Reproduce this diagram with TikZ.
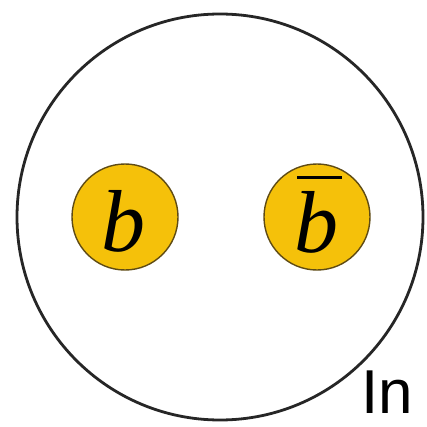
\documentclass[tikz,border=0pt]{standalone}
\usetikzlibrary{calc}
\usepackage{fontspec}
\setmainfont{Liberation Serif}
\newfontfamily\labelsans{Liberation Sans}
\definecolor{quarkfill}{RGB}{245,193,10}
\definecolor{quarkedge}{RGB}{95,75,20}
\begin{document}
\begin{tikzpicture}[x=1pt,y=-1pt,
  quark/.style={circle,draw=quarkedge,line width=1.4pt,fill=quarkfill,minimum size=106pt,inner sep=0pt},
  flavour/.style={inner sep=0pt,font=\fontsize{88}{88}\selectfont\itshape},
  hadron/.style={circle,draw=black!85,line width=2.8pt,minimum size=406pt,inner sep=0pt}]
\clip (0,0) rectangle (427,427);
\useasboundingbox (0,0) rectangle (427,427);
\fill[white] (0,0) rectangle (427,427);
\node[hadron] (meson) at (220,217) {};
\node[quark] (b) at (125,217) {};
\node[flavour] (blabel) at (123,221.5) {b};
\node[quark] (bbar) at (317,217) {};
\node[flavour] (bbarlabel) at (316,222.5) {b};
\coordinate (barL) at (297,178);
\coordinate (barR) at (342,178);
\draw[line width=3pt] (barL) -- (barR);
\node[anchor=base west,inner sep=0pt,font=\labelsans\fontsize{62}{62}\selectfont] (inlabel) at (361,413) {In};
\end{tikzpicture}
\end{document}
